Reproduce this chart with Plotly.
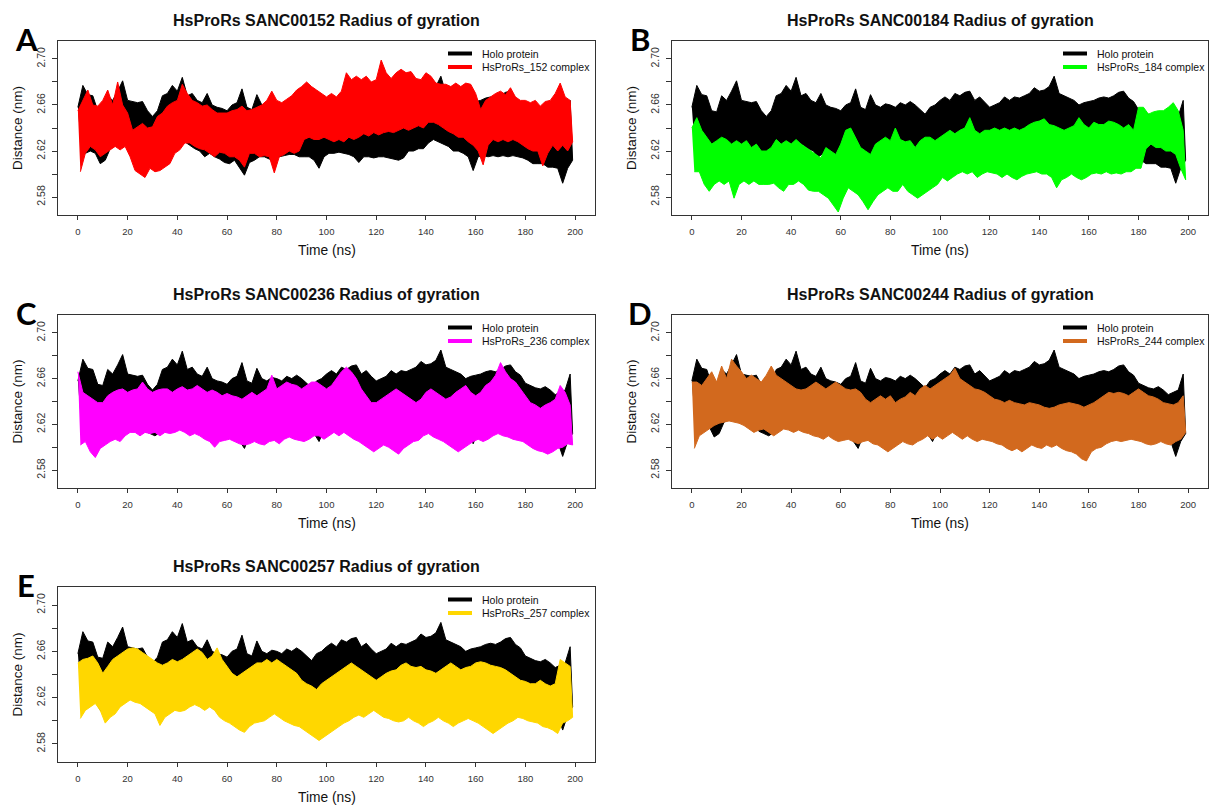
import plotly.graph_objects as go

# Radius of gyration (nm) per 2-ns window: upper and lower extent of each trajectory
TIME_NS = list(range(0, 200, 2))

holo_hi = [2.658, 2.677, 2.669, 2.668, 2.655, 2.654, 2.668, 2.664, 2.672, 2.681,
           2.664, 2.663, 2.662, 2.663, 2.655, 2.650, 2.655, 2.668, 2.670, 2.677,
           2.672, 2.684, 2.668, 2.670, 2.664, 2.662, 2.670, 2.660, 2.658, 2.657,
           2.655, 2.660, 2.662, 2.674, 2.658, 2.656, 2.669, 2.660, 2.658, 2.661,
           2.660, 2.658, 2.662, 2.660, 2.663, 2.660, 2.656, 2.652, 2.658, 2.660,
           2.664, 2.667, 2.664, 2.670, 2.668, 2.671, 2.672, 2.664, 2.667, 2.662,
           2.658, 2.660, 2.662, 2.667, 2.664, 2.667, 2.666, 2.668, 2.670, 2.675,
           2.672, 2.673, 2.676, 2.685, 2.670, 2.668, 2.666, 2.664, 2.660, 2.662,
           2.663, 2.664, 2.666, 2.667, 2.666, 2.668, 2.671, 2.672, 2.666, 2.663,
           2.656, 2.654, 2.652, 2.651, 2.653, 2.650, 2.646, 2.648, 2.650, 2.664]
holo_lo = [2.628, 2.618, 2.620, 2.618, 2.609, 2.612, 2.622, 2.625, 2.625, 2.627,
           2.625, 2.622, 2.620, 2.614, 2.612, 2.610, 2.613, 2.620, 2.625, 2.628,
           2.625, 2.628, 2.625, 2.622, 2.620, 2.615, 2.618, 2.615, 2.613, 2.610,
           2.609, 2.612, 2.606, 2.599, 2.610, 2.612, 2.615, 2.615, 2.613, 2.612,
           2.615, 2.616, 2.617, 2.617, 2.615, 2.615, 2.615, 2.612, 2.605, 2.615,
           2.618, 2.618, 2.619, 2.618, 2.617, 2.615, 2.610, 2.615, 2.615, 2.614,
           2.615, 2.615, 2.614, 2.613, 2.612, 2.614, 2.620, 2.620, 2.622, 2.622,
           2.627, 2.630, 2.628, 2.626, 2.624, 2.620, 2.620, 2.618, 2.615, 2.603,
           2.615, 2.616, 2.615, 2.616, 2.615, 2.616, 2.615, 2.616, 2.615, 2.614,
           2.612, 2.609, 2.609, 2.609, 2.606, 2.606, 2.605, 2.592, 2.605, 2.612]

c152_hi = [2.655, 2.664, 2.673, 2.660, 2.659, 2.664, 2.673, 2.660, 2.680, 2.660,
           2.653, 2.638, 2.641, 2.644, 2.640, 2.641, 2.650, 2.653, 2.659, 2.662,
           2.664, 2.678, 2.670, 2.664, 2.662, 2.659, 2.660, 2.656, 2.653, 2.653,
           2.653, 2.655, 2.656, 2.659, 2.655, 2.656, 2.658, 2.660, 2.664, 2.672,
           2.664, 2.662, 2.665, 2.668, 2.673, 2.676, 2.680, 2.676, 2.673, 2.670,
           2.667, 2.670, 2.667, 2.672, 2.688, 2.682, 2.685, 2.682, 2.685, 2.680,
           2.682, 2.699, 2.688, 2.683, 2.688, 2.691, 2.688, 2.689, 2.683, 2.682,
           2.688, 2.685, 2.679, 2.678, 2.678, 2.676, 2.679, 2.676, 2.679, 2.678,
           2.670, 2.656, 2.664, 2.667, 2.670, 2.672, 2.669, 2.675, 2.667, 2.664,
           2.664, 2.662, 2.664, 2.659, 2.663, 2.664, 2.670, 2.679, 2.667, 2.664]
c152_lo = [2.602, 2.618, 2.624, 2.621, 2.615, 2.618, 2.621, 2.624, 2.621, 2.624,
           2.615, 2.603, 2.600, 2.597, 2.605, 2.602, 2.603, 2.606, 2.609, 2.618,
           2.621, 2.627, 2.627, 2.624, 2.622, 2.621, 2.618, 2.615, 2.619, 2.618,
           2.615, 2.615, 2.612, 2.606, 2.618, 2.618, 2.615, 2.616, 2.615, 2.601,
           2.615, 2.617, 2.620, 2.618, 2.620, 2.630, 2.632, 2.630, 2.630, 2.632,
           2.630, 2.628, 2.630, 2.628, 2.632, 2.630, 2.632, 2.635, 2.633, 2.636,
           2.634, 2.636, 2.637, 2.636, 2.638, 2.640, 2.638, 2.640, 2.642, 2.640,
           2.645, 2.645, 2.643, 2.640, 2.637, 2.635, 2.632, 2.632, 2.628, 2.625,
           2.620, 2.608, 2.625, 2.630, 2.628, 2.630, 2.628, 2.630, 2.628, 2.625,
           2.622, 2.620, 2.620, 2.607, 2.618, 2.625, 2.620, 2.625, 2.620, 2.628]

c184_hi = [2.640, 2.649, 2.638, 2.632, 2.626, 2.629, 2.632, 2.630, 2.626, 2.629,
           2.626, 2.629, 2.623, 2.626, 2.620, 2.620, 2.623, 2.630, 2.626, 2.629,
           2.626, 2.630, 2.626, 2.623, 2.620, 2.617, 2.614, 2.623, 2.620, 2.617,
           2.626, 2.638, 2.640, 2.632, 2.623, 2.620, 2.617, 2.626, 2.629, 2.632,
           2.629, 2.640, 2.630, 2.628, 2.629, 2.623, 2.629, 2.632, 2.632, 2.629,
           2.632, 2.635, 2.638, 2.635, 2.638, 2.640, 2.649, 2.638, 2.635, 2.638,
           2.638, 2.640, 2.638, 2.640, 2.638, 2.640, 2.638, 2.640, 2.643, 2.645,
           2.646, 2.648, 2.643, 2.642, 2.640, 2.638, 2.640, 2.642, 2.649, 2.643,
           2.640, 2.645, 2.643, 2.643, 2.646, 2.645, 2.643, 2.640, 2.643, 2.638,
           2.658, 2.658, 2.652, 2.654, 2.655, 2.655, 2.658, 2.662, 2.655, 2.638]
c184_lo = [2.602, 2.602, 2.591, 2.585, 2.591, 2.594, 2.591, 2.594, 2.579, 2.591,
           2.594, 2.591, 2.594, 2.591, 2.591, 2.591, 2.592, 2.588, 2.585, 2.591,
           2.591, 2.594, 2.591, 2.586, 2.585, 2.585, 2.582, 2.579, 2.573, 2.567,
           2.579, 2.588, 2.585, 2.582, 2.576, 2.569, 2.576, 2.582, 2.585, 2.588,
           2.585, 2.585, 2.591, 2.585, 2.582, 2.579, 2.582, 2.585, 2.588, 2.591,
           2.597, 2.594, 2.597, 2.600, 2.602, 2.600, 2.602, 2.597, 2.600, 2.602,
           2.601, 2.600, 2.597, 2.600, 2.597, 2.595, 2.598, 2.600, 2.601, 2.602,
           2.600, 2.600, 2.597, 2.588, 2.595, 2.597, 2.600, 2.597, 2.595, 2.597,
           2.600, 2.601, 2.600, 2.602, 2.600, 2.601, 2.600, 2.602, 2.602, 2.605,
           2.605, 2.622, 2.626, 2.623, 2.623, 2.620, 2.620, 2.617, 2.605, 2.595]

c236_hi = [2.666, 2.648, 2.645, 2.642, 2.639, 2.639, 2.645, 2.648, 2.650, 2.651,
           2.648, 2.650, 2.651, 2.657, 2.651, 2.648, 2.650, 2.651, 2.651, 2.648,
           2.651, 2.653, 2.650, 2.651, 2.654, 2.651, 2.648, 2.650, 2.648, 2.645,
           2.647, 2.645, 2.644, 2.642, 2.645, 2.648, 2.645, 2.648, 2.651, 2.663,
           2.651, 2.654, 2.657, 2.655, 2.654, 2.651, 2.654, 2.657, 2.657, 2.654,
           2.651, 2.654, 2.660, 2.666, 2.670, 2.666, 2.660, 2.651, 2.645, 2.639,
           2.639, 2.642, 2.645, 2.648, 2.651, 2.648, 2.645, 2.642, 2.639, 2.642,
           2.648, 2.651, 2.648, 2.645, 2.642, 2.644, 2.648, 2.651, 2.654, 2.648,
           2.645, 2.648, 2.654, 2.657, 2.663, 2.674, 2.666, 2.660, 2.657, 2.651,
           2.645, 2.639, 2.637, 2.634, 2.637, 2.639, 2.642, 2.654, 2.648, 2.637]
c236_lo = [2.602, 2.605, 2.596, 2.591, 2.599, 2.602, 2.605, 2.607, 2.605, 2.610,
           2.613, 2.613, 2.610, 2.613, 2.612, 2.613, 2.610, 2.613, 2.612, 2.613,
           2.615, 2.613, 2.610, 2.612, 2.610, 2.607, 2.605, 2.600, 2.605, 2.606,
           2.607, 2.605, 2.603, 2.602, 2.603, 2.605, 2.603, 2.602, 2.605, 2.606,
           2.603, 2.607, 2.609, 2.607, 2.606, 2.605, 2.607, 2.610, 2.610, 2.607,
           2.610, 2.613, 2.610, 2.613, 2.610, 2.607, 2.605, 2.602, 2.599, 2.596,
           2.599, 2.602, 2.600, 2.597, 2.594, 2.599, 2.602, 2.605, 2.606, 2.610,
           2.612, 2.609, 2.607, 2.605, 2.602, 2.599, 2.596, 2.599, 2.602, 2.605,
           2.607, 2.605, 2.607, 2.610, 2.612, 2.610, 2.609, 2.607, 2.606, 2.605,
           2.602, 2.599, 2.597, 2.596, 2.594, 2.596, 2.599, 2.600, 2.603, 2.602]

c244_hi = [2.657, 2.657, 2.654, 2.660, 2.666, 2.657, 2.671, 2.660, 2.677, 2.671,
           2.666, 2.660, 2.663, 2.660, 2.657, 2.663, 2.671, 2.663, 2.660, 2.657,
           2.654, 2.651, 2.650, 2.651, 2.654, 2.657, 2.654, 2.651, 2.654, 2.657,
           2.654, 2.651, 2.650, 2.651, 2.648, 2.642, 2.639, 2.642, 2.645, 2.642,
           2.645, 2.639, 2.642, 2.644, 2.648, 2.645, 2.651, 2.654, 2.651, 2.654,
           2.657, 2.660, 2.663, 2.669, 2.660, 2.657, 2.654, 2.651, 2.650, 2.648,
           2.645, 2.642, 2.641, 2.639, 2.641, 2.639, 2.638, 2.637, 2.639, 2.638,
           2.637, 2.635, 2.634, 2.635, 2.637, 2.638, 2.639, 2.638, 2.637, 2.635,
           2.637, 2.639, 2.642, 2.645, 2.648, 2.647, 2.648, 2.647, 2.645, 2.648,
           2.651, 2.648, 2.645, 2.644, 2.642, 2.639, 2.638, 2.637, 2.639, 2.645]
c244_lo = [2.599, 2.610, 2.613, 2.616, 2.619, 2.621, 2.622, 2.623, 2.622, 2.621,
           2.619, 2.616, 2.613, 2.615, 2.616, 2.613, 2.610, 2.613, 2.616, 2.615,
           2.613, 2.615, 2.613, 2.612, 2.610, 2.609, 2.607, 2.610, 2.607, 2.605,
           2.606, 2.607, 2.605, 2.603, 2.605, 2.606, 2.603, 2.602, 2.599, 2.596,
           2.599, 2.602, 2.605, 2.603, 2.602, 2.605, 2.607, 2.610, 2.607, 2.610,
           2.607, 2.610, 2.613, 2.610, 2.607, 2.610, 2.607, 2.605, 2.607, 2.606,
           2.605, 2.603, 2.602, 2.599, 2.597, 2.599, 2.596, 2.599, 2.602, 2.600,
           2.599, 2.602, 2.600, 2.602, 2.599, 2.597, 2.596, 2.594, 2.590, 2.588,
           2.596, 2.599, 2.600, 2.603, 2.605, 2.606, 2.605, 2.606, 2.607, 2.606,
           2.605, 2.603, 2.602, 2.603, 2.605, 2.603, 2.602, 2.605, 2.607, 2.613]

c257_hi = [2.650, 2.653, 2.654, 2.656, 2.650, 2.641, 2.647, 2.653, 2.656, 2.659,
           2.662, 2.663, 2.662, 2.659, 2.656, 2.653, 2.650, 2.648, 2.650, 2.653,
           2.651, 2.653, 2.656, 2.659, 2.662, 2.659, 2.653, 2.656, 2.663, 2.653,
           2.647, 2.641, 2.638, 2.641, 2.644, 2.647, 2.650, 2.650, 2.653, 2.650,
           2.653, 2.650, 2.647, 2.644, 2.641, 2.635, 2.632, 2.630, 2.627, 2.632,
           2.635, 2.638, 2.641, 2.644, 2.647, 2.650, 2.647, 2.644, 2.641, 2.638,
           2.635, 2.638, 2.641, 2.643, 2.644, 2.648, 2.650, 2.647, 2.646, 2.647,
           2.644, 2.643, 2.641, 2.644, 2.647, 2.650, 2.647, 2.644, 2.646, 2.647,
           2.650, 2.651, 2.650, 2.648, 2.647, 2.646, 2.644, 2.641, 2.638, 2.635,
           2.634, 2.632, 2.632, 2.635, 2.632, 2.630, 2.632, 2.653, 2.650, 2.647]
c257_lo = [2.602, 2.609, 2.612, 2.615, 2.609, 2.598, 2.603, 2.606, 2.612, 2.615,
           2.618, 2.616, 2.615, 2.612, 2.609, 2.606, 2.596, 2.603, 2.606, 2.609,
           2.608, 2.609, 2.612, 2.614, 2.612, 2.609, 2.612, 2.609, 2.603, 2.600,
           2.598, 2.595, 2.592, 2.590, 2.595, 2.598, 2.599, 2.600, 2.603, 2.606,
           2.603, 2.600, 2.598, 2.596, 2.595, 2.592, 2.589, 2.586, 2.583, 2.586,
           2.589, 2.592, 2.595, 2.598, 2.600, 2.603, 2.605, 2.603, 2.606, 2.609,
           2.606, 2.603, 2.602, 2.600, 2.599, 2.600, 2.603, 2.600, 2.598, 2.595,
           2.598, 2.600, 2.603, 2.600, 2.598, 2.595, 2.598, 2.600, 2.602, 2.600,
           2.598, 2.595, 2.592, 2.589, 2.592, 2.595, 2.598, 2.600, 2.603, 2.602,
           2.600, 2.599, 2.598, 2.595, 2.594, 2.592, 2.589, 2.598, 2.600, 2.603]

X_TICKS = list(range(0, 201, 20))
# tick marks every 0.02 nm, labels on every other one
Y_TICKS = [2.58, 2.60, 2.62, 2.64, 2.66, 2.68, 2.70]
Y_TICK_TEXT = ["2.58", "", "2.62", "", "2.66", "", "2.70"]

W, H = 1209, 808
FONT = "Liberation Sans, Arial, Helvetica, sans-serif"

# letter, compound, legend label, colour, upper, lower, plot box (left, right, top, bottom) in px
panels = [
    ("A", "SANC00152", "HsProRs_152 complex", "#FF0000", c152_hi, c152_lo, (58, 595, 41, 215)),
    ("B", "SANC00184", "HsProRs_184 complex", "#00FF00", c184_hi, c184_lo, (672, 1208, 41, 215)),
    ("C", "SANC00236", "HsProRs_236 complex", "#FF00FF", c236_hi, c236_lo, (58, 595, 315, 488)),
    ("D", "SANC00244", "HsProRs_244 complex", "#D2691E", c244_hi, c244_lo, (672, 1208, 315, 488)),
    ("E", "SANC00257", "HsProRs_257 complex", "#FFD700", c257_hi, c257_lo, (58, 595, 587, 762)),
]


def px(x):
    return x / W


def py(y):
    return 1 - y / H


def band(hi, lo):
    xs = list(TIME_NS) + [t + 1 for t in TIME_NS][::-1]
    ys = list(hi) + list(lo)[::-1]
    return xs, ys


fig = go.Figure()
annotations = []
shapes = []

for k, (letter, cid, label, color, hi, lo, box) in enumerate(panels, start=1):
    l, r, t, b = box
    xa = "x" if k == 1 else f"x{k}"
    ya = "y" if k == 1 else f"y{k}"

    for (h, lw_, c) in ((holo_hi, holo_lo, "#000000"), (hi, lo, color)):
        bx, by = band(h, lw_)
        fig.add_trace(go.Scatter(
            x=bx, y=by, mode="lines", fill="toself", fillcolor=c,
            line=dict(color=c, width=1), xaxis=xa, yaxis=ya,
            hoverinfo="skip", showlegend=False))

    axis_common = dict(showline=True, mirror=True, linecolor="#333333", linewidth=1,
                       ticks="outside", tickcolor="#333333", tickwidth=1,
                       showgrid=False, zeroline=False)
    fig.layout[f"xaxis{'' if k == 1 else k}"] = dict(
        domain=[px(l), px(r)], anchor=ya, range=[-8, 208],
        tickmode="array", tickvals=X_TICKS, ticklen=4, ticklabelstandoff=4,
        tickfont=dict(family=FONT, size=9.5, color="#333333"), **axis_common)
    fig.layout[f"yaxis{'' if k == 1 else k}"] = dict(
        domain=[py(b), py(t)], anchor=xa, range=[2.5644, 2.7156],
        tickmode="array", tickvals=Y_TICKS, ticktext=Y_TICK_TEXT, tickangle=-90,
        ticklen=5, ticklabelstandoff=3,
        tickfont=dict(family=FONT, size=10.5, color="#333333"), **axis_common)

    cx = (l + r) / 2
    annotations.append(dict(
        x=px(cx), y=py(t - 21), xref="paper", yref="paper",
        text=f"<b>HsProRs {cid} Radius of gyration</b>", showarrow=False,
        font=dict(family=FONT, size=16, color="#111111"),
        xanchor="center", yanchor="middle"))
    annotations.append(dict(
        x=px(l - 32), y=py(t - 2), xref="paper", yref="paper",
        text=f"<b>{letter}</b>", showarrow=False,
        font=dict(family="Lato, Open Sans, sans-serif", size=31, color="#000000"),
        xanchor="center", yanchor="middle"))
    annotations.append(dict(
        x=px(l - 41), y=py((t + b) / 2), xref="paper", yref="paper",
        text="Distance (nm)", textangle=-90, showarrow=False,
        font=dict(family=FONT, size=13.5, color="#111111"),
        xanchor="center", yanchor="middle"))
    annotations.append(dict(
        x=px(cx), y=py(b + 35), xref="paper", yref="paper",
        text="Time (ns)", showarrow=False,
        font=dict(family=FONT, size=13.8, color="#111111"),
        xanchor="center", yanchor="middle"))

    # legend, top right inside the box
    lx0 = r - 147 if r < 600 else r - 145
    for row, (txt, c) in enumerate((("Holo protein", "#000000"), (label, color))):
        yy = t + 12.5 + 13.5 * row
        shapes.append(dict(type="line", xref="paper", yref="paper",
                           x0=px(lx0), x1=px(lx0 + 24), y0=py(yy), y1=py(yy),
                           line=dict(color=c, width=4)))
        annotations.append(dict(
            x=px(lx0 + 32), y=py(yy), xref="paper", yref="paper",
            text=txt, showarrow=False,
            font=dict(family=FONT, size=10.5, color="#111111"),
            xanchor="left", yanchor="middle"))

fig.update_layout(
    width=W, height=H, margin=dict(l=0, r=0, t=0, b=0),
    paper_bgcolor="white", plot_bgcolor="white",
    showlegend=False, annotations=annotations, shapes=shapes)

fig.write_html("out.html")
